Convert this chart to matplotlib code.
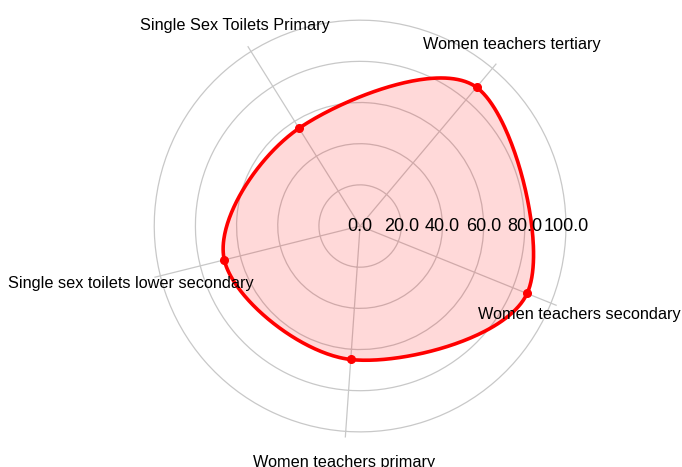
import numpy as np
import matplotlib
matplotlib.use("Agg")
import matplotlib.pyplot as plt

plt.rcParams["font.family"] = ["Liberation Sans", "DejaVu Sans"]

categories = ["Women teachers primary", "Women teachers secondary",
              "Women teachers tertiary", "Single Sex Toilets Primary",
              "Single sex toilets lower secondary"]
values = [65, 87.5, 88, 56, 68]
r_ticks = [0, 20, 40, 60, 80, 100]
r_tick_labels = ["0.0", "20.0", "40.0", "60.0", "80.0", "100.0"]


def closed_spline(x, y, n=80):
    # periodic Catmull-Rom through the points, in cartesian space
    P = np.column_stack([x, y]); k = len(P)
    t = np.linspace(0, 1, n, endpoint=False)[:, None]
    out = []
    for i in range(k):
        p0, p1, p2, p3 = P[i - 1], P[i], P[(i + 1) % k], P[(i + 2) % k]
        seg = 0.5 * ((2 * p1) + (-p0 + p2) * t
                     + (2 * p0 - 5 * p1 + 4 * p2 - p3) * t ** 2
                     + (-p0 + 3 * p1 - 3 * p2 + p3) * t ** 3)
        out.append(seg)
    out = np.vstack(out + [P[:1]])
    return out[:, 0], out[:, 1]


offset = np.radians(266)
n = len(categories)
theta = np.arange(n) * 2 * np.pi / n
vals = np.array(values, dtype=float)

sx, sy = closed_spline(vals * np.cos(theta), vals * np.sin(theta))
s_th = np.unwrap(np.arctan2(sy, sx))
s_r = np.hypot(sx, sy)

fig = plt.figure(figsize=(6.82, 4.67), dpi=100)
ax = fig.add_axes([0.217, 0.062, 0.622, 0.908], projection="polar")
ax.set_theta_offset(offset)
ax.set_ylim(0, 103)
ax.set_yticks(r_ticks[1:])
ax.set_yticklabels([])
ax.set_xticks(theta)
ax.set_xticklabels([])
ax.grid(True, color="#c8c8c8", lw=0.9)
ax.spines["polar"].set_visible(False)

ax.fill(s_th, s_r, color="red", alpha=0.15, lw=0, zorder=3)
ax.plot(s_th, s_r, color="red", lw=2.6, zorder=4)
ax.plot(theta, vals, "o", color="red", ms=5.5, zorder=5)

for r, lab in zip(r_ticks, r_tick_labels):
    ax.text(-offset, r, lab, ha="center", va="center", fontsize=13, zorder=6)

for th, lab in zip(theta, categories):
    ax.text(th, 115, lab, ha="center", va="center", fontsize=11.7, zorder=6)

fig.savefig("out.png", dpi=100)
